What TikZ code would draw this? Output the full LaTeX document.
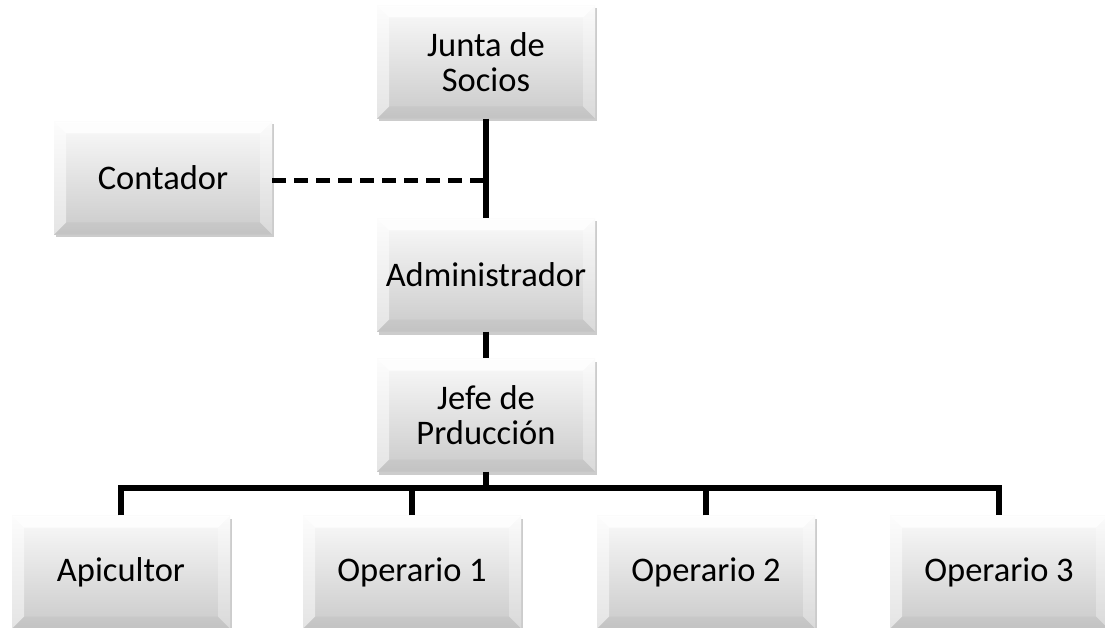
\documentclass[tikz,border=0pt]{standalone}
\usepackage{fontspec}
\setmainfont{Carlito}
\usetikzlibrary{shadows,calc}
\definecolor{boxtop}{RGB}{250,250,250}
\definecolor{boxbot}{RGB}{202,202,202}
\newfontfamily\orgfont{Carlito}
\tikzset{
  orgbox/.style={
    minimum width=218pt, minimum height=113pt, inner sep=0pt,
    align=center, text=black,
    font=\orgfont\fontsize{34.5}{35}\selectfont,
    drop shadow={shadow xshift=1.5pt, shadow yshift=-3pt, fill=black, opacity=0.2},
    fill=boxbot,
    path picture={
      \coordinate (sw) at (path picture bounding box.south west);
      \coordinate (ne) at (path picture bounding box.north east);
      \coordinate (nw) at (sw |- ne);
      \coordinate (se) at (ne |- sw);
      \path[top color=boxtop, bottom color=boxbot] (sw) rectangle (ne);
      \fill[white, opacity=0.8] (nw) -- (ne) -- ($(ne)+(-12pt,-12pt)$) -- ($(nw)+(12pt,-12pt)$) -- cycle;
      \fill[white, opacity=0.5] (nw) -- ($(nw)+(12pt,-12pt)$) -- ($(sw)+(12pt,12pt)$) -- (sw) -- cycle;
      \fill[white, opacity=0.3] (ne) -- ($(ne)+(-12pt,-12pt)$) -- ($(se)+(-12pt,12pt)$) -- (se) -- cycle;
      \fill[black, opacity=0.03] (sw) -- ($(sw)+(12pt,12pt)$) -- ($(se)+(-12pt,12pt)$) -- (se) -- cycle;
    }},
  conn/.style={line width=5.5pt, black},
  dconn/.style={line width=5pt, black, dash pattern=on 14pt off 8pt}
}
\begin{document}
\begin{tikzpicture}[x=1pt, y=-1pt]
  \useasboundingbox (0,0) rectangle (1105,628);
  \node[orgbox] (junta) at (486,62) {Junta de\\Socios};
  \node[orgbox] (cont) at (163,178) {Contador};
  \node[orgbox] (adm) at (486,275) {Administrador};
  \node[orgbox] (jefe) at (486,415) {Jefe de\\Prducción};
  \node[orgbox] (api) at (121,572) {Apicultor};
  \node[orgbox] (op1) at (412,572) {Operario 1};
  \node[orgbox] (op2) at (706,572) {Operario 2};
  \node[orgbox] (op3) at (999,572) {Operario 3};
  \coordinate (jn) at (486,181);
  \coordinate (bar) at (486,488);
  \draw[conn] (junta.south) -- (adm.north);
  \draw[dconn] (jn -| cont.east) -- (jn);
  \draw[conn] (adm.south) -- (jefe.north);
  \draw[conn] (jefe.south) -- (bar);
  \draw[conn] (api.north) -- (api.north |- bar) -- (op3.north |- bar) -- (op3.north);
  \draw[conn] (op1.north) -- (op1.north |- bar);
  \draw[conn] (op2.north) -- (op2.north |- bar);
\end{tikzpicture}
\end{document}
